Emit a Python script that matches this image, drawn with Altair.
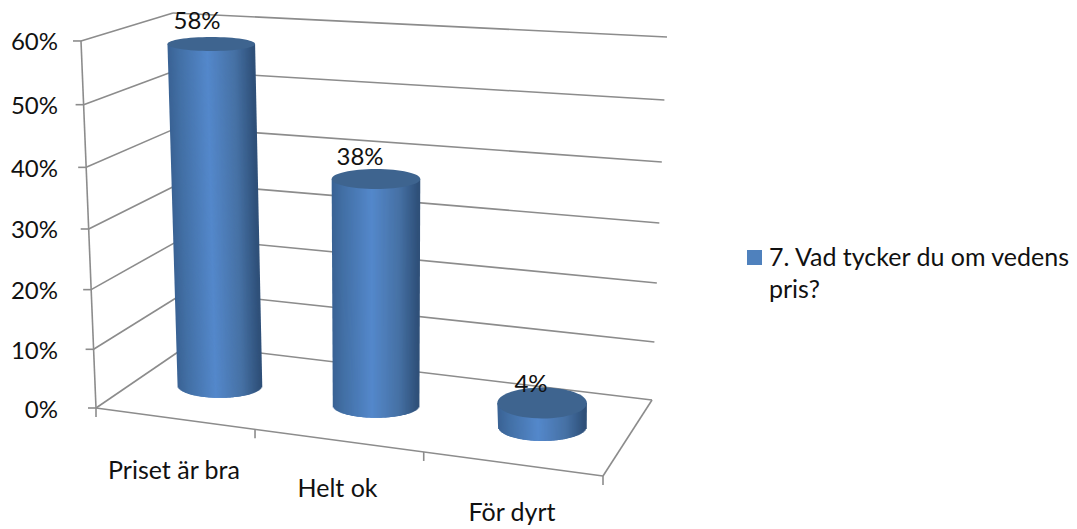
import altair as alt
import pandas as pd

# ---- chart values ----
categories = ["Priset är bra", "Helt ok", "För dyrt"]
values = [58, 38, 4]
value_labels = ["58%", "38%", "4%"]
tick_values = [0, 10, 20, 30, 40, 50, 60]
tick_labels = ["0%", "10%", "20%", "30%", "40%", "50%", "60%"]
legend_lines = ["7. Vad tycker du om vedens", "pris?"]

# ---- oblique perspective box of the 3-D chart (picture pixels) ----
FL, FR, BL, BR = (96, 408), (603, 476), (189, 344.5), (652, 400)
FLT, FRT, BLT, BRT = (81, 41), (621, 77), (173, 13), (667, 37)
K_U, C_V = -0.086, -0.048
FONT = "Lato"
FS = 25
FS_NUM = 24
STRIPS = 88
SHADE = [(0, (0x3a, 0x62, 0x94)), (0.12, (0x42, 0x6f, 0xa4)), (0.46, (0x54, 0x88, 0xcb)),
         (0.78, (0x46, 0x71, 0xa4)), (1, (0x2e, 0x4f, 0x78))]


def lerp(a, b, t):
    return (a[0] + (b[0] - a[0]) * t, a[1] + (b[1] - a[1]) * t)


def s_u(u):
    return u * (1 + K_U) / (1 + K_U * u)


def s_v(v):
    t = v / 60
    y = (-369 * t + 408) / (C_V * t + 1)
    return (408 - y) / 367


def project(u, w, v):
    su, sv = s_u(u), s_v(v)
    bottom = lerp(lerp(FL, FR, su), lerp(BL, BR, su), w)
    top = lerp(lerp(FLT, FRT, su), lerp(BLT, BRT, su), w)
    return lerp(bottom, top, sv)


def shade(t):
    for (a, ca), (b, cb) in zip(SHADE, SHADE[1:]):
        if t <= b:
            f = (t - a) / (b - a)
            return "#%02x%02x%02x" % tuple(round(p + (q - p) * f) for p, q in zip(ca, cb))
    return "#2e4f78"


# ---- rules: walls, floor, ticks ----
segs = []


def seg(a, b):
    segs.append({"x": a[0], "y": a[1], "x2": b[0], "y2": b[1]})


for v in tick_values:
    f, b, r = project(0, 0, v), project(0, 1, v), project(1, 1, v)
    seg((f[0] - 8, f[1]), f)
    seg(f, b)
    seg(b, r)
seg(project(0, 0, 0), project(0, 0, 60))
seg(project(0, 0, 0), project(1, 0, 0))
seg(project(1, 0, 0), project(1, 1, 0))
for i in range(4):
    p = project(i / 3, 0, 0)
    seg(p, (p[0], p[1] + 9))

# ---- cylinders: vertical shaded strips plus a top ellipse ----
base_dx = [2.5, 2, 2]
top_dx = [4, 2, 1]
base_rx = [41.5, 42.5, 43.5]
top_rx = [43, 43.5, 44]
base_ry = [12, 12, 14]
top_ry = [7, 10, 15.5]
strips, tops = [], []
for i, c in enumerate(categories):
    u = (i + 0.5) / 3
    bx, by = project(u, 0.5, 0)
    tx, ty = project(u, 0.5, values[i])
    bx += base_dx[i]
    tx += top_dx[i]
    for k in range(STRIPS):
        t = (k + 0.5) / STRIPS
        xi = 2 * t - 1
        strips.append({
            "x": tx + top_rx[i] * xi, "y": ty,
            "x2": bx + base_rx[i] * xi,
            "y2": by + base_ry[i] * (1 - xi * xi) ** 0.5,
            "c": shade(t),
        })
    r = top_ry[i] / (top_rx[i] + 0.8)
    tops.append({"x": tx, "y": ty, "size": (2 * (top_rx[i] + 0.8)) ** 2,
                 "shape": f"M-1,0A1,{r:.4f},0,1,1,1,0A1,{r:.4f},0,1,1,-1,0Z"})

# ---- text placement ----
axis_text = []
for v, lab in zip(tick_values, tick_labels):
    p = project(0, 0, v)
    axis_text.append({"x": 58, "y": p[1] + 2.5, "t": lab})
cat_pos = [(174, 471), (337.5, 489), (512, 513)]
cat_text = [{"x": p[0], "y": p[1], "t": c} for p, c in zip(cat_pos, categories)]
lab_pos = [(197, 21.5), (360, 158), (531, 385)]
lab_text = [{"x": p[0], "y": p[1], "t": c} for p, c in zip(lab_pos, value_labels)]
leg_text = [{"x": 769, "y": 258, "t": legend_lines[0]},
            {"x": 769, "y": 290, "t": legend_lines[1]}]

X = alt.X("x:Q", scale=alt.Scale(domain=[8, 1069], nice=False, zero=False), axis=None)
Y = alt.Y("y:Q", scale=alt.Scale(domain=[529, 8], nice=False, zero=False), axis=None)

rules = alt.Chart(pd.DataFrame(segs)).mark_rule(color="#8c8c8c", strokeWidth=1.6).encode(
    x=X, y=Y, x2="x2:Q", y2="y2:Q")
bodies = alt.Chart(pd.DataFrame(strips)).mark_rule(strokeWidth=2.6, strokeCap="butt").encode(
    x=X, y=Y, x2="x2:Q", y2="y2:Q", color=alt.Color("c:N", scale=None, legend=None))
top_faces = alt.Chart(pd.DataFrame(tops)).mark_point(
    filled=True, color="#3e648f", opacity=1, strokeWidth=0
).encode(
    x=X, y=Y,
    shape=alt.Shape("shape:N", scale=None, legend=None),
    size=alt.Size("size:Q", scale=None, legend=None),
)


def text(rows, align="center", size=FS):
    return alt.Chart(pd.DataFrame(rows)).mark_text(
        font=FONT, fontSize=size, color="#111111", align=align, baseline="middle"
    ).encode(x=X, y=Y, text="t:N")


legend_mark = alt.Chart(pd.DataFrame([{"x": 754.5, "y": 257.5}])).mark_square(
    size=225, color="#4f81bd", opacity=1).encode(x=X, y=Y)

chart = alt.layer(
    rules,
    bodies,
    top_faces,
    text(axis_text, "right", FS_NUM),
    text(cat_text),
    text(lab_text, "center", FS_NUM),
    legend_mark,
    text(leg_text, "left"),
).properties(
    width=1061, height=521, padding=0,
    autosize=alt.AutoSizeParams(type="none"),
    background="white",
).configure_view(stroke=None)

chart.save("out.html", embed_options={"renderer": "svg", "actions": False})
